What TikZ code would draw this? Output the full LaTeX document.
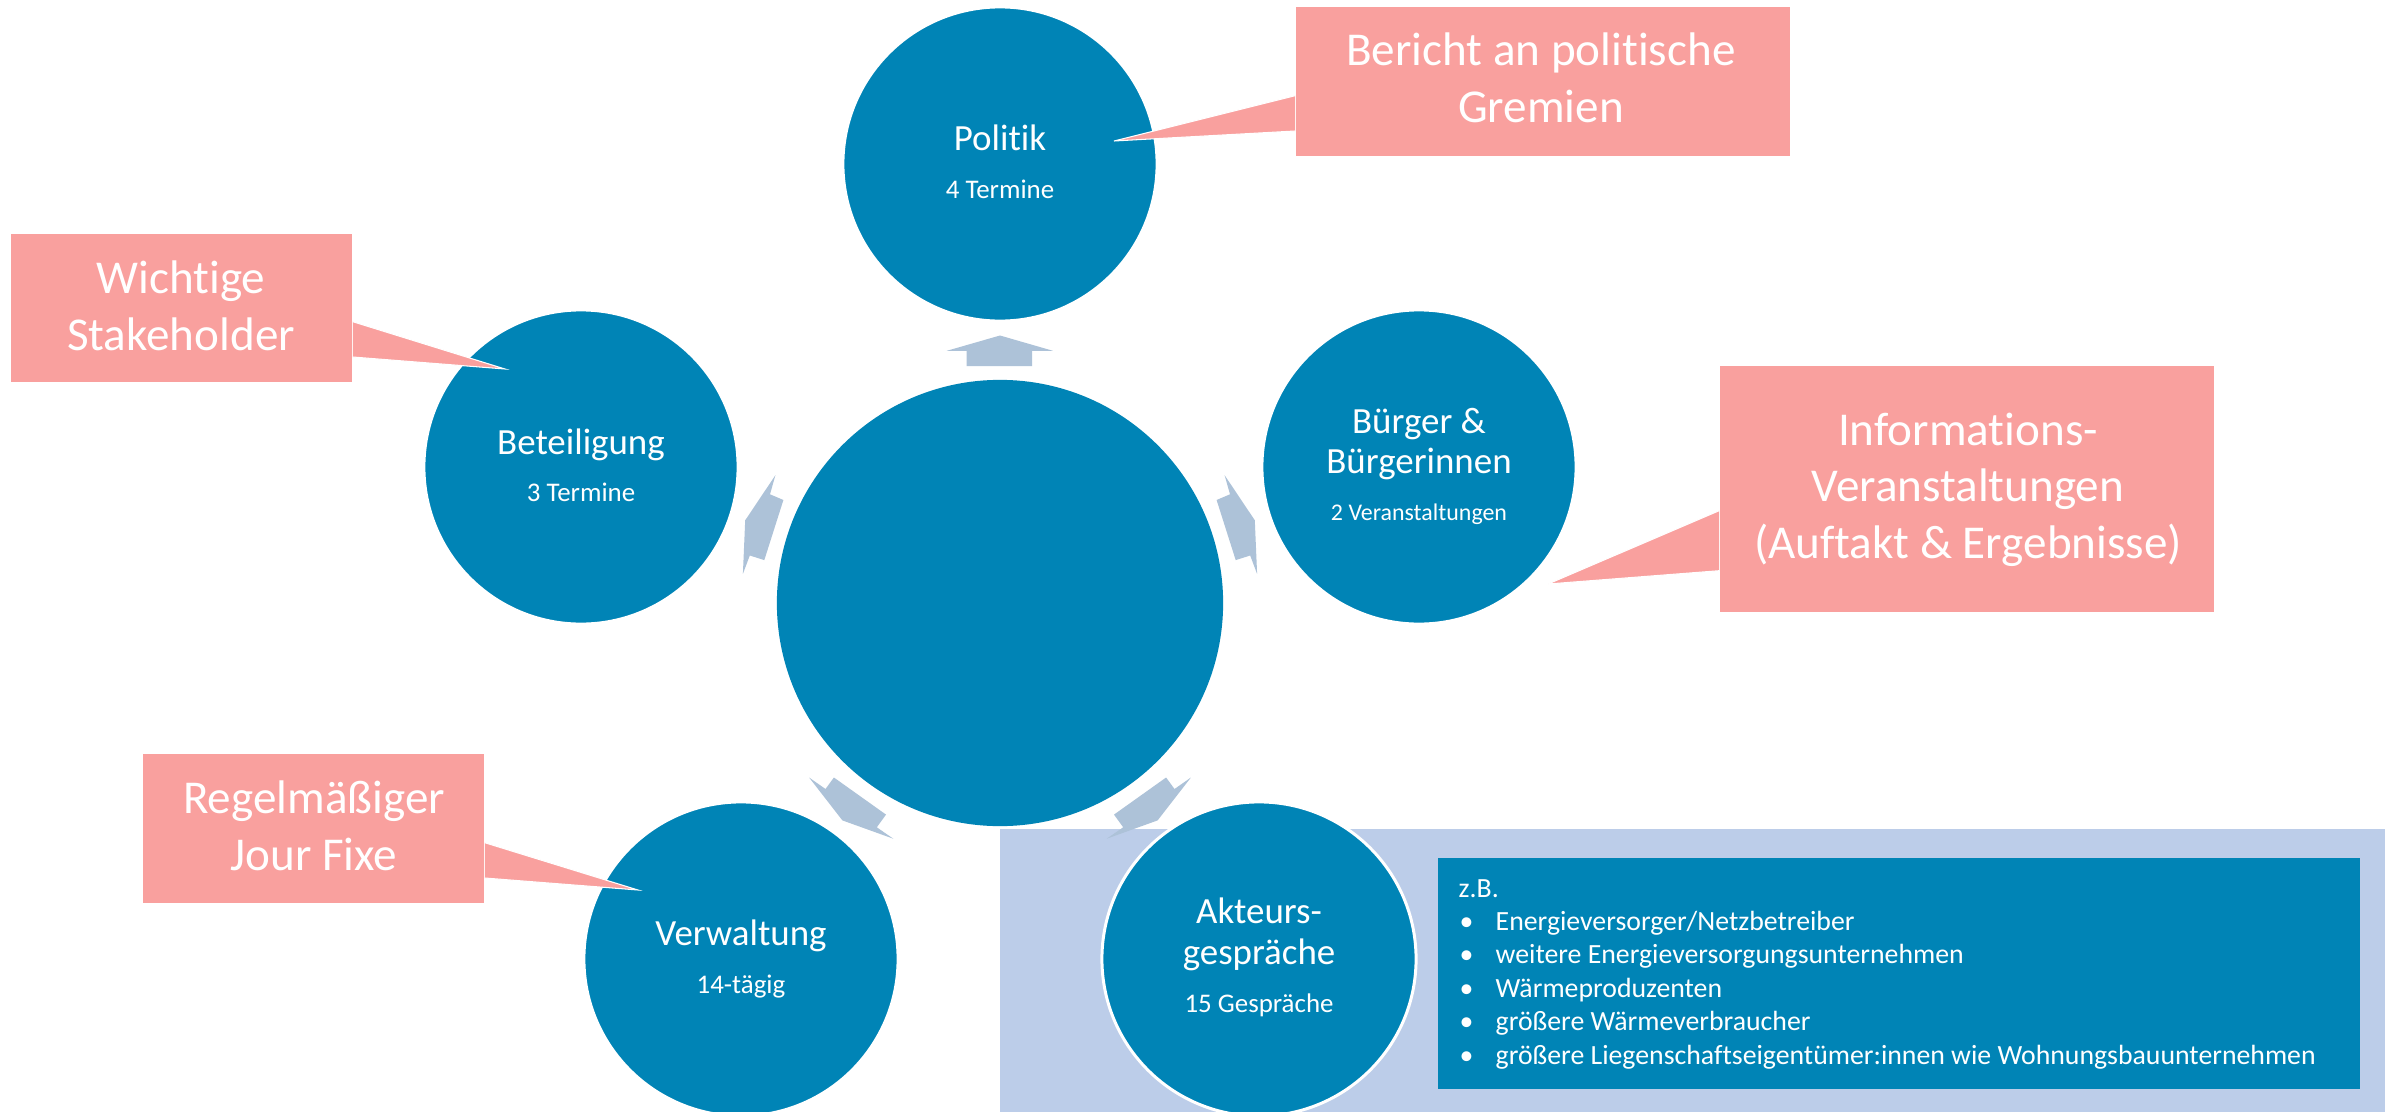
\documentclass[tikz,border=0pt]{standalone}
\usepackage{fontspec}
\setmainfont{Carlito}[Ligatures={NoCommon}]
\usetikzlibrary{calc}
\definecolor{cblue}{RGB}{0,132,182}
\definecolor{cpink}{RGB}{249,160,158}
\definecolor{carrow}{RGB}{173,194,216}
\definecolor{cbg}{RGB}{188,205,233}
\tikzset{
  sat/.style={circle,fill=cblue,draw=white,line width=0.85pt,minimum size=3.14cm,inner sep=0pt},
  hub/.style={circle,fill=cblue,minimum size=4.46cm,inner sep=0pt},
  ttl/.style={text=white,inner sep=0pt,anchor=base,font=\fontsize{10.5}{11.4}\selectfont},
  subt/.style={text=white,inner sep=0pt,anchor=base,font=\fontsize{7.65}{9}\selectfont},
  callbox/.style={rectangle,fill=cpink,inner sep=0pt},
  callt/.style={text=white,inner sep=0pt,anchor=base,font=\fontsize{13.4}{16}\selectfont},
  lst/.style={text=white,inner sep=0pt,anchor=base west,font=\fontsize{7.9}{9.5}\selectfont},
  arr/.style={fill=carrow},
  tail/.style={fill=cpink},
  tailedge/.style={draw=white,line width=0.3pt}
}
\begin{document}
\begin{tikzpicture}[x=0.01cm,y=-0.01cm]
\clip (0,0) rectangle (2399,1112);
\fill[white] (0,0) rectangle (2399,1112);

% background panel and list box
\fill[cbg] (1000,829) rectangle (2385,1120);
\node[rectangle,fill=cblue,minimum width=9.22cm,minimum height=2.31cm,inner sep=0pt] (lst) at (1899,973.5) {};

% arrows
\fill[arr] (946.8,350.8) -- (1000,335.5) -- (1052.9,350.8) -- (1032.2,350.8) -- (1032.2,366.1) -- (966.7,366.1) -- (966.7,350.8) -- cycle;
\fill[arr] (775.4,475.2) -- (770.0,494.3) -- (783.4,500.0) -- (764.3,560.1) -- (749.8,555.5) -- (742.9,573.9) -- (745.2,520.3) -- cycle;
\fill[arr] (1224.6,475.2) -- (1230.0,494.3) -- (1216.6,500.0) -- (1235.7,560.1) -- (1250.2,555.5) -- (1257.1,573.9) -- (1254.8,520.3) -- cycle;
\fill[arr] (809.1,777.5) -- (825.5,789.0) -- (833.9,777.5) -- (886.0,814.6) -- (876.8,827.3) -- (893.3,838.7) -- (842.4,820.4) -- cycle;
\fill[arr] (1190.9,777.5) -- (1174.5,789.0) -- (1166.1,777.5) -- (1114.0,814.6) -- (1123.2,827.3) -- (1106.7,838.7) -- (1157.6,820.4) -- cycle;

% circles
\node[hub] (hub) at (1000,603) {};
\node[sat] (pol) at (1000,164) {};
\node[sat] (bet) at (581,467) {};
\node[sat] (bue) at (1419,467) {};
\node[sat] (ver) at (741,959) {};
\node[sat] (akt) at (1259,959) {};

% circle texts
\node[ttl] (polt) at ($(pol)+(0,-14)$) {Politik};
\node[subt] (pols) at ($(pol)+(0,34)$) {4 Termine};
\node[ttl] (bett) at ($(bet)+(0,-12.5)$) {Beteiligung};
\node[subt] (bets) at ($(bet)+(0,34.5)$) {3 Termine};
\node[ttl] (buet1) at ($(bue)+(0,-34)$) {Bürger \&};
\node[ttl] (buet2) at ($(bue)+(0,6)$) {Bürgerinnen};
\node[subt,font=\fontsize{6.8}{8}\selectfont] (bues) at ($(bue)+(0,53)$) {2 Veranstaltungen};
\node[ttl] (vert) at ($(ver)+(0,-14)$) {Verwaltung};
\node[subt] (vers) at ($(ver)+(0,34)$) {14-tägig};
\node[ttl] (aktt1) at ($(akt)+(0,-36)$) {Akteurs-};
\node[ttl] (aktt2) at ($(akt)+(0,5)$) {gespräche};
\node[subt] (akts) at ($(akt)+(0,53)$) {15 Gespräche};

% list text
\node[lst] (zb) at (1458,897) {z.B.};
\foreach \yy/\txt [count=\i] in {930/{Energieversorger/Netzbetreiber},
  963.5/{weitere Energieversorgungsunternehmen},
  997/{Wärmeproduzenten},
  1030.5/{größere Wärmeverbraucher},
  1064/{größere Liegenschaftseigentümer:innen wie Wohnungsbauunternehmen}}{
  \node[lst] (b\i) at (1459,\yy) {•};
  \node[lst] (l\i) at (1495,\yy) {\txt};
}

% callouts
\node[callbox,minimum width=4.94cm,minimum height=1.487cm] (cb1) at (1543,81.35) {};
\coordinate (tip1) at ($(pol)+(114,-23)$);
\fill[tail] ($(cb1.west)+(0,14.35)$) -- (tip1) -- ($(cb1.west)+(0,49.65)$) -- cycle;
\draw[tailedge] ($(cb1.west)+(0,14.35)$) -- (tip1) -- ($(cb1.west)+(0,49.65)$);
\node[callt] (c1a) at (1541,65) {Bericht an politische};
\node[callt] (c1b) at (1541,123) {Gremien};

\node[callbox,minimum width=3.41cm,minimum height=1.48cm] (cb2) at (181.5,308) {};
\coordinate (tip2) at ($(bet)+(-76,-98)$);
\fill[tail] ($(cb2.east)+(0,13.7)$) -- (tip2) -- ($(cb2.east)+(0,49)$) -- cycle;
\draw[tailedge] ($(cb2.east)+(0,13.7)$) -- (tip2) -- ($(cb2.east)+(0,49)$);
\node[callt] (c2a) at (181,293) {Wichtige};
\node[callt] (c2b) at (181,350) {Stakeholder};

\node[callbox,minimum width=4.94cm,minimum height=2.457cm] (cb3) at (1967,488.85) {};
\coordinate (tip3) at ($(bue)+(129,117)$);
\fill[tail] ($(cb3.west)+(0,21.85)$) -- (tip3) -- ($(cb3.west)+(0,81.85)$) -- cycle;
\draw[tailedge] ($(cb3.west)+(0,21.85)$) -- (tip3) -- ($(cb3.west)+(0,81.85)$);
\node[callt] (c3a) at (1968,445) {Informations-};
\node[callt] (c3b) at (1968,501.7) {Veranstaltungen};
\node[callt] (c3c) at (1968,558.3) {(Auftakt \& Ergebnisse)};

\node[callbox,minimum width=3.41cm,minimum height=1.49cm] (cb4) at (313.5,828.5) {};
\coordinate (tip4) at ($(ver)+(-103,-69)$);
\fill[tail] ($(cb4.east)+(0,14.2)$) -- (tip4) -- ($(cb4.east)+(0,49.5)$) -- cycle;
\draw[tailedge] ($(cb4.east)+(0,14.2)$) -- (tip4) -- ($(cb4.east)+(0,49.5)$);
\node[callt] (c4a) at (314,813.3) {Regelmäßiger};
\node[callt] (c4b) at (314,870) {Jour Fixe};
\end{tikzpicture}
\end{document}
